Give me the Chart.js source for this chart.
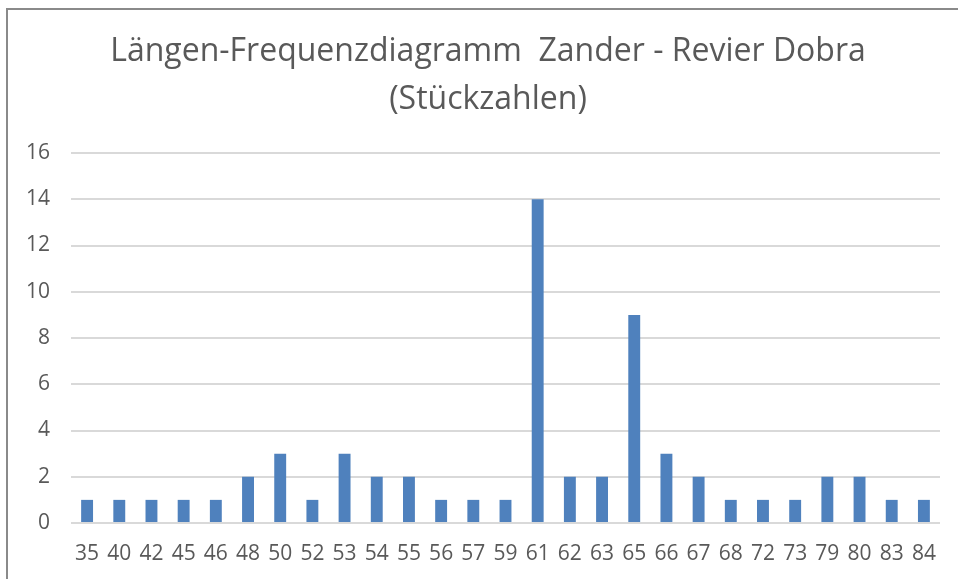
<!DOCTYPE html>
<html>
<head>
<meta charset="utf-8">
<script src="https://cdn.jsdelivr.net/npm/chart.js@4.4.3/dist/chart.umd.min.js"></script>
<style>
  html, body { margin: 0; padding: 0; background: #fff; overflow: hidden; }
  #wrap { position: relative; width: 958px; height: 579px; }
  #frame { position: absolute; left: 6px; top: 8px; width: 1000px; height: 700px;
           border-left: 2px solid #8a8a8a; border-top: 2px solid #8a8a8a; pointer-events: none; }
</style>
</head>
<body>
<div id="wrap">
  <canvas id="chart" width="958" height="579"></canvas>
  <div id="frame"></div>
</div>
<script>
// Längenklassen (cm) und Stückzahlen
const lengths = ['35','40','42','45','46','48','50','52','53','54','55','56','57','59',
                 '61','62','63','65','66','67','68','72','73','79','80','83','84'];
const counts = [1, 1, 1, 1, 1, 2, 3, 1, 3, 2, 2, 1, 1, 1,
                14, 2, 2, 9, 3, 2, 1, 1, 1, 2, 2, 1, 1];
const yTicks = [0, 2, 4, 6, 8, 10, 12, 14, 16];

const fontFam = "'Open Sans', sans-serif";

new Chart(document.getElementById('chart'), {
    type: 'bar',
    data: {
        labels: lengths,
        datasets: [{
            label: 'Stückzahl',
            data: counts,
            backgroundColor: '#4f81bd',
            categoryPercentage: 1,
            barPercentage: 0.37
        }]
    },
    options: {
        responsive: false,
        animation: false,
        layout: { padding: { left: 18, right: 0, top: 0, bottom: 0 } },
        plugins: {
            legend: { display: false },
            tooltip: { enabled: false },
            title: {
                display: true,
                text: ['Längen-Frequenzdiagramm  Zander - Revier Dobra', '(Stückzahlen)'],
                color: '#595959',
                font: { family: fontFam, size: 32, weight: 'normal', lineHeight: 1.5 },
                padding: { top: 28, bottom: 29 }
            }
        },
        scales: {
            x: {
                grid: { display: false },
                border: { display: false },
                ticks: { color: '#595959', font: { family: fontFam, size: 21 }, padding: 10, maxRotation: 0, autoSkip: false },
                afterFit: s => { s.height = 56; }
            },
            y: {
                min: 0,
                max: 16,
                afterBuildTicks: s => { s.ticks = yTicks.map(v => ({ value: v })); },
                grid: { color: '#d9d9d9', lineWidth: 2, drawTicks: false },
                border: { display: false },
                ticks: { color: '#595959', font: { family: fontFam, size: 21 }, padding: 21 },
                afterFit: s => { s.width = 53; }
            },
            // leerer Rand rechts, damit der Titel wie im Original sitzt
            yRight: {
                position: 'right',
                min: 0,
                max: 16,
                grid: { display: false },
                border: { display: false },
                ticks: { display: false },
                afterFit: s => { s.width = 18; }
            }
        }
    }
});
</script>
</body>
</html>
